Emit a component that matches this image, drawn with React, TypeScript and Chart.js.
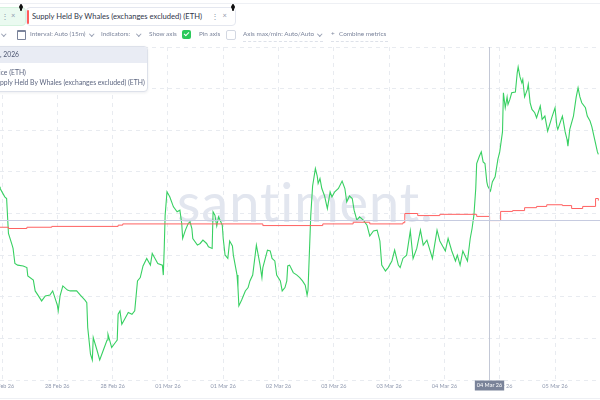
import React, { useEffect, useRef } from "react";
import { Chart, registerables } from "chart.js";

Chart.register(...registerables);

// ---- data ----
const tickHours = [9, 24, 39, 54, 69, 84, 99, 114, 129, 144, 159];
const tickLabels = ["27 Feb 26", "28 Feb 26", "28 Feb 26", "01 Mar 26", "01 Mar 26", "02 Mar 26", "03 Mar 26", "03 Mar 26", "04 Mar 26", "05 Mar 26", "05 Mar 26"];

// hours since 27 Feb 2026 00:00
const priceHours = [
  8.25, 8.5, 9.75, 10.25, 10.75, 11.75, 12, 12.5, 13.25, 14.75, 15.75, 16, 17.5, 18, 18.75, 19.75, 20.75, 22, 22.75, 24,
  24.25, 24.75, 25.5, 26.75, 27.5, 29.25, 30.25, 31.5, 32, 32.25, 33, 33.5, 33.75, 34.75, 35.5, 36.5, 37.5, 37.75, 38.75, 39.75,
  40.25, 40.5, 41, 41.5, 42.25, 43.25, 44.25, 45, 45.75, 46.5, 47.25, 48.25, 49.25, 49.75, 50.5, 51.25, 52.5, 52.75, 53, 53.25,
  53.75, 54.5, 55.5, 56.5, 57.25, 57.75, 58, 58.75, 59.5, 60, 60.5, 60.75, 62, 62.75, 63.5, 64.5, 65, 66, 66.25, 66.75,
  67.25, 67.75, 68.75, 69, 69.5, 70.25, 70.75, 71.5, 71.75, 72.25, 72.75, 73, 73.25, 74, 75, 75.75, 76.25, 77, 78, 78.5,
  79, 79.5, 79.75, 81, 81.75, 82.25, 83, 83.5, 84.5, 85, 85.75, 86.25, 86.5, 87, 88, 89, 89.75, 90.5, 91.25, 91.75,
  92, 92.75, 93.25, 94, 94.5, 94.75, 95.25, 95.75, 96.5, 97.25, 98, 98.5, 99.25, 100.25, 101.25, 102, 102.5, 103.25, 104, 104.5,
  105.25, 106, 107, 108, 108.75, 109.75, 110.75, 111.5, 112, 113, 113.75, 114.75, 115.5, 116.5, 117, 117.75, 118.75, 119.75, 120.5, 121.5,
  122.5, 123.25, 124.25, 125.75, 127, 127.75, 129.25, 130, 131, 132, 132.5, 133.25, 134, 135.25, 136, 136.5, 137, 137.5, 137.75, 138.5,
  139, 139.5, 140, 140.5, 140.75, 141.5, 142, 142.75, 143.5, 144, 144.75, 145, 145.5, 146, 146.25, 146.75, 147.25, 148.25, 148.75, 149,
  149.5, 150, 150.25, 150.75, 151.5, 151.75, 152.25, 152.75, 153.5, 154, 155, 155.5, 156.25, 157, 158.25, 159, 159.5, 159.75, 161, 161.25,
  161.75, 162.25, 162.5, 163, 164, 164.75, 165.25, 165.75, 166.25, 167.25, 167.75, 168.5, 169, 169.25, 169.75, 170.5, 170.75
];
const priceValues = [
  2082, 2080, 2070, 2068, 2026, 2012, 2008, 1990, 1988, 1987, 1985, 1975, 1970, 1957, 1952, 1945, 1951, 1952, 1957, 1940,
  1933, 1951, 1963, 1958, 1957, 1957, 1952, 1946, 1943, 1913, 1881, 1874, 1901, 1886, 1874, 1886, 1898, 1905, 1889, 1895,
  1898, 1929, 1933, 1917, 1923, 1931, 1929, 1933, 1969, 1973, 1987, 1996, 1988, 2002, 1996, 1990, 1988, 1976, 2008, 2048,
  2076, 2070, 2058, 2052, 2054, 2038, 2020, 2030, 2038, 2040, 2032, 2020, 2012, 2014, 2018, 2014, 2010, 2008, 2052, 2048,
  2035, 2046, 2036, 2020, 2000, 1996, 2017, 2011, 2000, 1988, 1976, 1961, 1939, 1946, 1957, 1961, 1969, 1976, 2012, 2000,
  1988, 1973, 1985, 2006, 2005, 1996, 1993, 1976, 1969, 1957, 1961, 1969, 1987, 1988, 1979, 1976, 1973, 1969, 1964, 1952,
  1958, 2048, 2083, 2104, 2095, 2086, 2092, 2080, 2071, 2056, 2076, 2070, 2076, 2080, 2089, 2080, 2064, 2071, 2068, 2054,
  2042, 2046, 2042, 2036, 2023, 2029, 2030, 2017, 1988, 1981, 1985, 1993, 2006, 1988, 1985, 1996, 2000, 2029, 1996, 2008,
  2030, 2012, 2018, 1996, 2030, 2017, 2005, 2020, 2005, 1993, 2000, 1988, 2005, 1993, 2020, 2032, 2048, 2080, 2110, 2119,
  2124, 2112, 2110, 2088, 2083, 2077, 2088, 2094, 2115, 2124, 2148, 2195, 2177, 2190, 2181, 2187, 2195, 2196, 2219, 2226,
  2214, 2207, 2211, 2190, 2199, 2205, 2183, 2175, 2171, 2165, 2179, 2163, 2167, 2149, 2167, 2177, 2155, 2151, 2167, 2161,
  2148, 2139, 2131, 2151, 2167, 2190, 2201, 2190, 2183, 2177, 2167, 2161, 2154, 2149, 2139, 2124, 2121
];

// Supply held by whales, million ETH (step changes)
const whaleHours = [8.25, 10.75, 15.75, 22.5, 40.5, 41.75, 79.75, 96, 104.25, 108.75, 117.75, 118.25, 121.75, 127.75, 137.75, 141.25, 144.25, 147.5, 150.75, 154, 156.75, 161, 163.5, 166.5, 170, 170.75];
const whaleValues = [22.367, 22.364, 22.367, 22.369, 22.372, 22.375, 22.371, 22.375, 22.379, 22.375, 22.378, 22.4, 22.395, 22.398, 22.393, 22.383, 22.405, 22.407, 22.414, 22.417, 22.421, 22.419, 22.412, 22.417, 22.436, 22.431];

const crosshairHour = 141.1;
const crosshairPrice = 2042;
const crosshairLabel = "04 Mar 26";

const FONT = "Lato, 'Open Sans', sans-serif";

const extrasPlugin = {
  id: "extras",
  beforeDatasetsDraw(chart: any) {
    const { ctx, chartArea } = chart;
    ctx.save();
    ctx.font = `400 54px ${FONT}`;
    (ctx as any).letterSpacing = "0px";
    const w = ctx.measureText("santiment").width;
    const ls = Math.max(0, (244 - w) / 9);
    (ctx as any).letterSpacing = `${ls}px`;
    ctx.fillStyle = "#e2e6ef";
    ctx.textBaseline = "alphabetic";
    ctx.textAlign = "left";
    ctx.fillText("santiment.", chartArea.left + 177, chartArea.top + 175);
    ctx.restore();
  },
  afterDatasetsDraw(chart: any) {
    const { ctx, chartArea, scales } = chart;
    const x = Math.round(scales.x.getPixelForValue(crosshairHour)) + 0.5;
    const y = Math.round(scales.y.getPixelForValue(crosshairPrice)) + 0.5;
    ctx.save();
    ctx.lineWidth = 1;
    ctx.strokeStyle = "#c3c8d6";
    ctx.beginPath();
    ctx.moveTo(x, chartArea.top);
    ctx.lineTo(x, chartArea.bottom);
    ctx.stroke();
    ctx.strokeStyle = "#c6cbe0";
    ctx.beginPath();
    ctx.moveTo(chartArea.left, y);
    ctx.lineTo(chartArea.right, y);
    ctx.stroke();
    ctx.font = `5.5px ${FONT}`;
    const tw = ctx.measureText(crosshairLabel).width;
    const bw = tw + 4;
    const bh = 10;
    ctx.fillStyle = "#7a8399";
    ctx.fillRect(x - bw / 2, chartArea.bottom + 0.5, bw, bh);
    ctx.fillStyle = "#ffffff";
    ctx.textAlign = "center";
    ctx.textBaseline = "middle";
    ctx.fillText(crosshairLabel, x, chartArea.bottom + 0.5 + bh / 2);
    ctx.restore();
  },
};

function ChartCanvas() {
  const ref = useRef<HTMLCanvasElement | null>(null);
  useEffect(() => {
    if (!ref.current) return;
    const chart = new Chart(ref.current, {
      type: "line",
      data: {
        datasets: [
          {
            label: "Supply Held By Whales (exchanges excluded) (ETH)",
            data: whaleHours.map((h, i) => ({ x: h, y: whaleValues[i] })),
            yAxisID: "y1",
            borderColor: "#ff6161",
            borderWidth: 1,
            pointRadius: 0,
            stepped: "before",
            tension: 0,
          },
          {
            label: "Price (ETH)",
            data: priceHours.map((h, i) => ({ x: h, y: priceValues[i] })),
            yAxisID: "y",
            borderColor: "#38d062",
            borderWidth: 1.1,
            pointRadius: 0,
            tension: 0,
          },
        ],
      },
      options: {
        animation: false,
        responsive: false,
        devicePixelRatio: 1,
        layout: { padding: { top: 47, left: 0, right: 0, bottom: 7.4 } },
        plugins: { legend: { display: false }, tooltip: { enabled: false } },
        scales: {
          x: {
            type: "linear",
            min: 8.4575,
            max: 171.2,
            afterBuildTicks: (scale: any) => {
              scale.ticks = tickHours.map((v) => ({ value: v }));
            },
            afterFit: (scale: any) => {
              scale.paddingLeft = 0;
              scale.paddingRight = 0;
            },
            ticks: {
              autoSkip: false,
              maxRotation: 0,
              padding: 3,
              color: "#8f98ae",
              font: { size: 5.5, family: FONT },
              callback: (v: any) => {
                const i = tickHours.indexOf(Number(v));
                return i >= 0 ? tickLabels[i] : "";
              },
            },
            grid: { color: "#e8ebf0", lineWidth: 1, drawTicks: false },
            border: { display: false, dash: [4, 4] },
          },
          y: {
            position: "left",
            min: 1850,
            max: 2250,
            ticks: { display: false, stepSize: 50 },
            grid: { color: "#e8ebf0", lineWidth: 1, drawTicks: false },
            border: { display: false, dash: [4, 4] },
          },
          y1: {
            position: "right",
            display: false,
            min: 22.0,
            max: 22.8,
          },
        },
      } as any,
      plugins: [extrasPlugin],
    });
    return () => chart.destroy();
  }, []);
  return <canvas ref={ref} width={600} height={400} style={{ position: "absolute", left: 0, top: 0, width: 600, height: 400 }} />;
}

const abs = (x: number, y: number, extra: any = {}): React.CSSProperties => ({ position: "absolute", left: x, top: y, ...extra });

function Txt({ x, y, size, color, children, weight }: any) {
  return (
    <div style={abs(x, y - size / 2, { fontSize: size, color, lineHeight: 1, whiteSpace: "nowrap", fontWeight: weight || 400 })}>{children}</div>
  );
}

function Chevron({ x, y }: any) {
  return <div style={abs(x, y, { width: 2.5, height: 2.5, borderRight: "1px solid #9aa2b5", borderBottom: "1px solid #9aa2b5", transform: "rotate(45deg)" })} />;
}

function Handle({ x, y }: any) {
  return (
    <div style={abs(x, y, { width: 5, height: 7 })}>
      <div style={abs(0.5, 1.5, { width: 4, height: 4, borderRadius: 2, background: "#111" })} />
      <div style={abs(1.5, 0, { width: 2, height: 7, background: "#111", borderRadius: 1 })} />
    </div>
  );
}

function Overlay() {
  const rowColor = "#7b849b";
  const rs = 6.4;
  return (
    <>
      <div style={abs(0, 3, { width: 600, height: 1, background: "#eef0f4" })} />
      {/* green metric tag (cut off) */}
      <div style={abs(-70, 7, { width: 94, height: 17, background: "#eafaf0", border: "1px solid #d4f2de", borderRadius: 4 })} />
      <Txt x={0.5} y={16} size={8} color="#8f97ab">⋮</Txt>
      <Txt x={11} y={16} size={7.5} color="#8f97ab">×</Txt>
      <Handle x={18.5} y={3.5} />
      {/* red metric tag */}
      <div style={abs(26, 7, { width: 208, height: 17, background: "#fff", border: "1px solid #e4e7ef", borderRadius: 4 })} />
      <div style={abs(27, 9.5, { width: 2, height: 14, background: "#ff5b5b", borderRadius: 1 })} />
      <Txt x={32} y={16.5} size={7.6} color="#2f3549">Supply Held By Whales (exchanges excluded) (ETH)</Txt>
      <Txt x={210.5} y={16} size={8} color="#8f97ab">⋮</Txt>
      <Txt x={222.5} y={16} size={7.5} color="#8f97ab">×</Txt>
      <Handle x={230.5} y={3.5} />

      {/* controls row */}
      <Chevron x={2} y={32} />
      <div style={abs(17, 30, { width: 7, height: 7, border: `1px solid ${rowColor}`, borderTopWidth: 2, borderRadius: 1 })} />
      <Txt x={30} y={34} size={rs} color={rowColor}>Interval: Auto (15m)</Txt>
      <Chevron x={90} y={32} />
      <Txt x={101} y={34} size={rs} color={rowColor}>Indicators:</Txt>
      <Chevron x={137} y={32} />
      <Txt x={149} y={34} size={rs} color={rowColor}>Show axis</Txt>
      <div style={abs(182, 29.5, { width: 9, height: 9, background: "#2bc95a", borderRadius: 2 })}>
        <div style={abs(3, 1.5, { width: 2, height: 4, borderRight: "1px solid #fff", borderBottom: "1px solid #fff", transform: "rotate(45deg)" })} />
      </div>
      <Txt x={199} y={34} size={rs} color={rowColor}>Pin axis</Txt>
      <div style={abs(226, 29.5, { width: 8, height: 8, border: "1px solid #d3d8e2", borderRadius: 2 })} />
      <Txt x={243} y={34} size={rs} color={rowColor}>Axis max/min: Auto/Auto</Txt>
      <Chevron x={318} y={32} />
      <div style={abs(243, 40.5, { width: 80, height: 0, borderTop: "1px dashed #dde1e9" })} />
      <Txt x={331} y={34} size={rs} color={rowColor}>+</Txt>
      <Txt x={339} y={34} size={rs} color={rowColor}>Combine metrics</Txt>
      <div style={abs(331, 40.5, { width: 57, height: 0, borderTop: "1px dashed #dde1e9" })} />

      {/* tooltip (cut off on the left) */}
      <div style={abs(-80, 46, { width: 226, height: 44, background: "#fff", border: "1px solid #dde1ea", borderRadius: 4, boxShadow: "0 1px 3px rgba(30,40,70,0.08)", overflow: "hidden" })}>
        <div style={abs(0, 0, { width: 226, height: 16, background: "#e9ecf4" })} />
      </div>
      <div style={abs(0, 54.5 - 3.4, { fontSize: 6.8, color: "#4f5872", lineHeight: 1, whiteSpace: "nowrap" })}>
        <span style={{ position: "absolute", right: "100%" }}>Mar 4</span>, 2026
      </div>
      <div style={abs(-1, 72.5 - 3.4, { fontSize: 6.8, color: "#5d6680", lineHeight: 1, whiteSpace: "nowrap" })}>
        <span style={{ position: "absolute", right: "100%" }}>Pr</span>ice (ETH)
      </div>
      <div style={abs(0, 82 - 3.4, { fontSize: 6.8, color: "#5d6680", lineHeight: 1, whiteSpace: "nowrap" })}>
        <span style={{ position: "absolute", right: "100%" }}>Su</span>pply Held By Whales (exchanges excluded) (ETH)
      </div>

      <div style={abs(0, 398, { width: 600, height: 1, background: "#eef0f4" })} />
    </>
  );
}

export default function App() {
  return (
    <div style={{ position: "absolute", left: 0, top: 0, width: 600, height: 400, overflow: "hidden", background: "#fff", fontFamily: FONT }}>
      <ChartCanvas />
      <Overlay />
    </div>
  );
}
